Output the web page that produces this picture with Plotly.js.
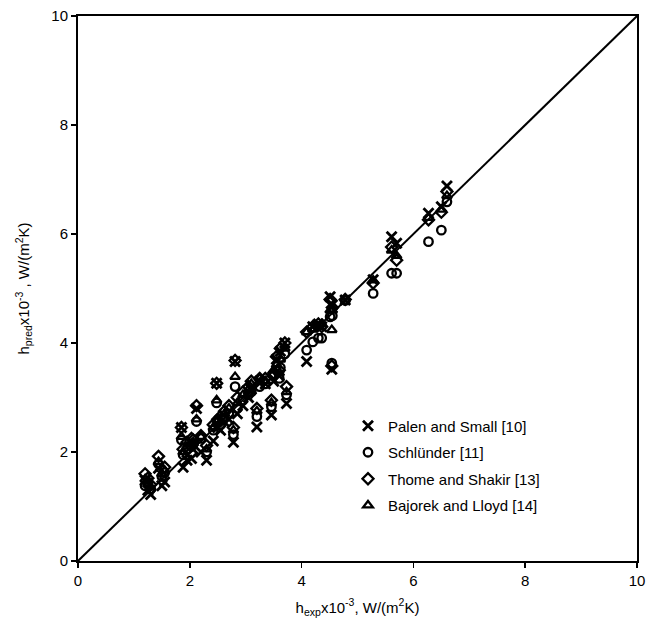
<!DOCTYPE html>
<html>
<head>
<meta charset="utf-8">
<script src="https://cdn.plot.ly/plotly-3.0.1.min.js"></script>
<style>body{margin:0;background:#fff}#chart{width:655px;height:637px}</style>
</head>
<body>
<div id="chart"></div>
<script>
// experimental heat transfer coefficients (x 10^-3)
const hExp = [1.20,1.25,1.30,1.44,1.50,1.55,1.85,1.88,1.95,2.03,2.06,2.12,2.20,2.30,2.42,2.48,2.50,2.55,2.62,2.70,2.78,2.81,2.85,2.95,3.05,3.10,3.20,3.25,3.35,3.46,3.50,3.55,3.62,3.70,3.73,3.60,4.09,4.20,4.30,4.36,4.51,4.54,4.55,4.78,5.28,5.61,5.70,6.27,6.50,6.60];
// predicted values by each correlation
const palenSmall = [1.48,1.30,1.22,1.70,1.38,1.45,2.45,1.72,1.85,1.88,2.05,2.80,2.00,1.85,2.20,3.26,2.45,2.40,2.55,2.60,2.18,3.66,2.70,2.85,3.00,3.15,2.46,3.30,3.25,2.68,3.30,3.70,3.85,4.00,2.89,3.40,3.66,4.30,4.35,4.30,4.85,3.52,4.70,4.79,5.16,5.95,5.83,6.38,6.50,6.88];
const schlunder = [1.38,1.45,1.32,1.78,1.55,1.62,2.22,1.95,2.05,2.10,2.15,2.56,2.25,2.00,2.40,2.90,2.55,2.50,2.62,2.70,2.32,3.20,2.80,2.95,3.05,3.10,2.65,3.20,3.25,2.83,3.40,3.50,3.55,3.80,3.05,3.35,3.87,4.02,4.09,4.09,4.48,3.63,4.50,4.78,4.91,5.28,5.28,5.86,6.07,6.59];
const thomeShakir = [1.60,1.52,1.40,1.92,1.68,1.72,2.45,2.05,2.18,2.25,2.22,2.85,2.30,2.12,2.50,3.26,2.60,2.65,2.75,2.85,2.45,3.68,3.00,3.10,3.20,3.30,2.80,3.35,3.35,2.95,3.45,3.75,3.90,4.00,3.20,3.50,4.20,4.30,4.35,4.30,4.80,3.58,4.65,4.80,5.10,5.76,5.52,6.26,6.40,6.78];
const bajorekLloyd = [1.50,1.42,1.35,1.82,1.60,1.66,2.28,2.00,2.10,2.15,2.18,2.60,2.28,2.05,2.45,2.95,2.58,2.55,2.70,2.80,2.40,3.38,2.90,3.05,3.15,3.25,2.75,3.35,3.30,2.90,3.50,3.60,3.70,3.90,3.10,3.45,4.20,4.25,4.30,4.35,4.60,4.24,4.60,4.80,5.15,5.70,5.60,6.30,6.45,6.70];
const seriesNames = ["Palen and Small [10]","Schlünder [11]","Thome and Shakir [13]","Bajorek and Lloyd [14]"];
const tickVals = [0,2,4,6,8,10];
const diag = [0,10];

const font = {family:"Liberation Sans, Arial, sans-serif", size:15, color:"#000"};
function mk(y, name, symbol, size, w, g){
  return {x:hExp, y:y, name:name, legendgroup:g, type:"scatter", mode:"markers", cliponaxis:false,
    marker:{symbol:symbol, size:size, color:"#000", line:{color:"#000", width:w}}};
}
const traces = [
  mk(palenSmall, seriesNames[0], "x-thin-open", 10, 2.8, "a"),
  mk(schlunder, seriesNames[1], "circle-open", 8.5, 2.3, "b"),
  mk(thomeShakir, seriesNames[2], "diamond-open", 8.5, 2.3, "c"),
  mk(bajorekLloyd, seriesNames[3], "triangle-up-open", 8.5, 2.3, "d"),
  {x:diag, y:diag, type:"scatter", mode:"lines", showlegend:false, hoverinfo:"skip",
   line:{color:"#000", width:2}}
];
const axisCommon = {range:[0,10], tickvals:tickVals, ticktext:tickVals.map(String),
  showgrid:false, zeroline:false, showline:true, linecolor:"#000", linewidth:2, mirror:true,
  ticks:"outside", ticklen:5, tickwidth:1.5, tickcolor:"#000", tickfont:font};
const layout = {
  width:655, height:637, paper_bgcolor:"#fff", plot_bgcolor:"#fff",
  margin:{l:78, r:18, t:16, b:76},
  font:font,
  xaxis:Object.assign({}, axisCommon, {title:{text:"h<sub>exp</sub>x10<sup>-3</sup>, W/(m<sup>2</sup>K)", font:font, standoff:14}}),
  yaxis:Object.assign({}, axisCommon, {title:{text:"h<sub>pred</sub>x10<sup>-3</sup> , W/(m<sup>2</sup>K)", font:font, standoff:18}}),
  legend:{x:0.483, y:0.278, xanchor:"left", yanchor:"top", bgcolor:"rgba(0,0,0,0)", font:font,
    traceorder:"grouped", tracegroupgap:4},
  showlegend:true
};
Plotly.newPlot("chart", traces, layout, {staticPlot:true});
</script>
</body>
</html>
